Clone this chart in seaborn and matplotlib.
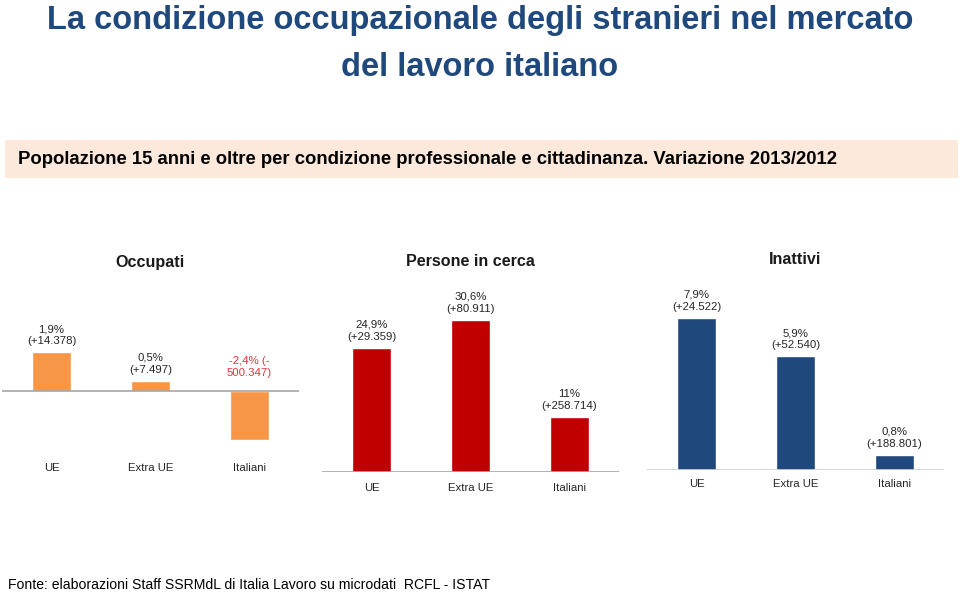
import matplotlib
matplotlib.use("Agg")
import matplotlib.pyplot as plt
import matplotlib.transforms as mtransforms
from matplotlib.patches import Rectangle
import seaborn as sns
import pandas as pd

sns.set_theme(style="white")
plt.rcParams['font.family'] = ['Liberation Sans', 'DejaVu Sans']

categories = ["UE", "Extra UE", "Italiani"]
occupati_pct = [1.9, 0.5, -2.4]
occupati_lbl = ["1,9%\n(+14.378)", "0,5%\n(+7.497)", "-2,4% (-\n500.347)"]
cerca_pct = [24.9, 30.6, 11.0]
cerca_lbl = ["24,9%\n(+29.359)", "30,6%\n(+80.911)", "11%\n(+258.714)"]
inattivi_pct = [7.9, 5.9, 0.8]
inattivi_lbl = ["7,9%\n(+24.522)", "5,9%\n(+52.540)", "0,8%\n(+188.801)"]
panel_titles = ["Occupati", "Persone in cerca", "Inattivi"]

W, H = 960, 594
fig = plt.figure(figsize=(W / 100, H / 100), dpi=100)
fig.patch.set_facecolor("white")

def px_axes(x0, x1, ytop, ybot):
    return fig.add_axes([x0 / W, 1 - ybot / H, (x1 - x0) / W, (ybot - ytop) / H])

# Title
fig.text(480 / W, 1 - 21 / H, "La condizione occupazionale degli stranieri nel mercato",
         ha="center", va="center", fontsize=23.5, fontweight="bold", color="#1F497D")
fig.text(480 / W, 1 - 68 / H, "del lavoro italiano",
         ha="center", va="center", fontsize=23.5, fontweight="bold", color="#1F497D")

# Subtitle band
fig.patches.append(Rectangle((5 / W, 1 - 178 / H), 953 / W, 38 / H,
                             transform=fig.transFigure, facecolor="#FCE9DC", edgecolor="none", zorder=0))
fig.text(18 / W, 1 - 159 / H,
         "Popolazione 15 anni e oltre per condizione professionale e cittadinanza. Variazione 2013/2012",
         ha="left", va="center", fontsize=13.3, fontweight="bold", color="black")

# Footer
fig.text(8 / W, 1 - 585 / H,
         "Fonte: elaborazioni Staff SSRMdL di Italia Lavoro su microdati  RCFL - ISTAT",
         ha="left", va="center", fontsize=10.1, color="black")

panels = [
    dict(vals=occupati_pct, lbls=occupati_lbl, color="#F79646", x0=2, x1=299, ytop=300, ybot=452,
         zero=391, scale=20.5, catY=468, titleY=262, lcolors=["#262626", "#262626", "#E8323C"],
         linecolor="#A6A6A6"),
    dict(vals=cerca_pct, lbls=cerca_lbl, color="#C00000", x0=322, x1=619, ytop=280, ybot=472,
         zero=472, scale=4.98, catY=488, titleY=262, lcolors=["#262626"] * 3, linecolor="#A6A6A6"),
    dict(vals=inattivi_pct, lbls=inattivi_lbl, color="#1F497D", x0=647, x1=944, ytop=280, ybot=470,
         zero=470, scale=19.25, catY=484, titleY=260, lcolors=["#262626"] * 3, linecolor="#D0D0D0"),
]

for p, title in zip(panels, panel_titles):
    ax = px_axes(p["x0"], p["x1"], p["ytop"], p["ybot"])
    df = pd.DataFrame({"cat": categories, "val": p["vals"]})
    sns.barplot(data=df, x="cat", y="val", color=p["color"], width=0.4, saturation=1,
                ax=ax, zorder=2)
    ymax = (p["zero"] - p["ytop"]) / p["scale"]
    ymin = -(p["ybot"] - p["zero"]) / p["scale"]
    ax.set_ylim(ymin, ymax)
    ax.set_xlim(-0.5, 2.5)
    ax.axhline(0, color=p["linecolor"], lw=1.2, zorder=3)
    ax.set_axis_off()
    for i, (v, lb, c) in enumerate(zip(p["vals"], p["lbls"], p["lcolors"])):
        if v > 0:
            y = v + 6 / p["scale"]
        else:
            y = 13 / p["scale"]
        ax.text(i, y, lb, ha="center", va="bottom", fontsize=8.2,
                color=c, linespacing=1.25)
    trans = mtransforms.blended_transform_factory(ax.transData, fig.transFigure)
    for i, c in enumerate(categories):
        ax.text(i, 1 - p["catY"] / H, c, ha="center", va="center", fontsize=8.2,
                color="#262626", transform=trans)
    xc = (p["x0"] + p["x1"]) / 2 / W
    fig.text(xc, 1 - p["titleY"] / H, title, ha="center", va="center", fontsize=11.6,
             fontweight="bold", color="#1A1A1A")

fig.savefig("out.png", dpi=100, facecolor="white")
